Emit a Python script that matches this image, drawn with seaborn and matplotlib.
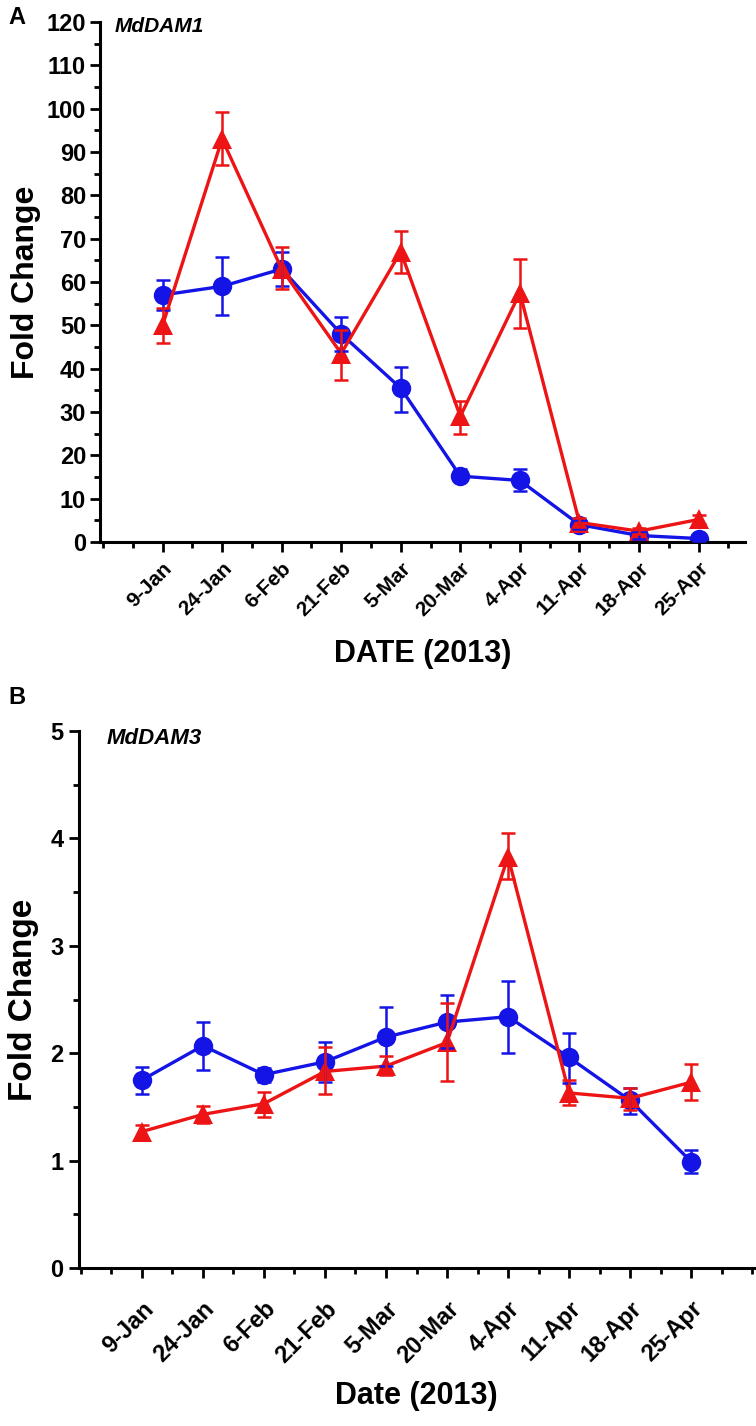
import numpy as np
import pandas as pd
import seaborn as sns
import matplotlib.pyplot as plt
from matplotlib.ticker import MultipleLocator

dates = ['9-Jan', '24-Jan', '6-Feb', '21-Feb', '5-Mar', '20-Mar', '4-Apr', '11-Apr', '18-Apr', '25-Apr']

# panel A, MdDAM1
dam1_blue = [57.0, 59.0, 63.0, 48.0, 35.5, 15.2, 14.2, 4.0, 1.5, 0.8]
dam1_blue_lo = [53.5, 52.5, 59.0, 44.0, 30.0, 14.0, 11.8, 3.0, 0.8, 0.3]
dam1_blue_hi = [60.5, 65.7, 67.0, 52.0, 40.5, 16.8, 16.8, 5.0, 2.2, 1.3]
dam1_red = [50.0, 93.0, 63.0, 43.5, 67.0, 29.0, 57.5, 4.5, 2.5, 5.2]
dam1_red_lo = [46.0, 87.0, 58.5, 37.5, 62.0, 25.0, 49.5, 3.5, 1.8, 4.2]
dam1_red_hi = [54.0, 99.3, 68.0, 49.0, 71.8, 32.5, 65.3, 5.5, 3.2, 6.2]

# panel B, MdDAM3
dam3_blue = [1.75, 2.07, 1.80, 1.92, 2.15, 2.29, 2.34, 1.96, 1.56, 0.99]
dam3_blue_lo = [1.62, 1.84, 1.73, 1.73, 1.88, 2.05, 2.00, 1.72, 1.43, 0.88]
dam3_blue_hi = [1.87, 2.29, 1.86, 2.10, 2.43, 2.54, 2.67, 2.19, 1.68, 1.10]
dam3_red = [1.27, 1.43, 1.53, 1.83, 1.88, 2.10, 3.83, 1.63, 1.58, 1.73]
dam3_red_lo = [1.20, 1.35, 1.41, 1.62, 1.80, 1.74, 3.62, 1.52, 1.47, 1.56]
dam3_red_hi = [1.33, 1.51, 1.64, 2.06, 1.97, 2.47, 4.05, 1.75, 1.68, 1.90]

BLUE = '#1414e6'
RED = '#ec1414'

sns.set_style('ticks')
plt.rcParams['font.family'] = ['Liberation Sans', 'DejaVu Sans']
plt.rcParams['font.weight'] = 'bold'
for k in ['text.color', 'axes.labelcolor', 'xtick.color', 'ytick.color']:
    plt.rcParams[k] = 'black'

fig = plt.figure(figsize=(7.56, 14.26), dpi=100)
ax1 = fig.add_axes([100/756, 1-542/1426, 645/756, 520/1426])
ax2 = fig.add_axes([79/756, 1-1268/1426, 675/756, 537/1426])


def draw(ax, blue, blo, bhi, red, rlo, rhi):
    pos = np.arange(len(dates))
    df = pd.DataFrame({
        'pos': np.concatenate([pos, pos]),
        'value': blue + red,
        'series': ['blue'] * len(dates) + ['red'] * len(dates),
    })
    sns.lineplot(data=df, x='pos', y='value', hue='series', style='series',
                 palette={'blue': BLUE, 'red': RED},
                 markers={'blue': 'o', 'red': '^'}, dashes=False,
                 markersize=14, markeredgewidth=0, linewidth=2.4,
                 errorbar=None, legend=False, ax=ax)
    for y, lo, hi, c in [(blue, blo, bhi, BLUE), (red, rlo, rhi, RED)]:
        y = np.array(y)
        ax.errorbar(pos, y, yerr=[y - np.array(lo), np.array(hi) - y], fmt='none',
                    ecolor=c, elinewidth=1.8, capsize=5, capthick=1.8, zorder=3)
    ax.set_xticks(pos)
    ax.xaxis.set_minor_locator(MultipleLocator(0.5))
    sns.despine(ax=ax)
    for s in ['left', 'bottom']:
        ax.spines[s].set_linewidth(2.2)
        ax.spines[s].set_color('black')
    ax.tick_params(which='major', direction='out', length=7, width=2, colors='black')
    ax.tick_params(which='minor', direction='out', length=4, width=2, colors='black')


draw(ax1, dam1_blue, dam1_blue_lo, dam1_blue_hi, dam1_red, dam1_red_lo, dam1_red_hi)
ax1.set_xlim(-1.05, 9.78)
ax1.set_ylim(0, 120)
ax1.yaxis.set_major_locator(MultipleLocator(10))
ax1.yaxis.set_minor_locator(MultipleLocator(5))
ax1.set_xticklabels(dates, rotation=45, ha='right', rotation_mode='anchor',
                    fontsize=15, fontweight='bold')
ax1.tick_params(axis='x', pad=5)
ax1.tick_params(axis='y', labelsize=17, pad=3)
ax1.set_ylabel('Fold Change', fontsize=23, fontweight='bold', labelpad=4)
ax1.set_xlabel('DATE (2013)', fontsize=22, fontweight='bold', labelpad=14)

draw(ax2, dam3_blue, dam3_blue_lo, dam3_blue_hi, dam3_red, dam3_red_lo, dam3_red_hi)
ax2.set_xlim(-1.03, 10.03)
ax2.set_ylim(0, 5)
ax2.yaxis.set_major_locator(MultipleLocator(1))
ax2.yaxis.set_minor_locator(MultipleLocator(0.5))
ax2.set_xticklabels(dates, rotation=45, ha='right', rotation_mode='anchor',
                    fontsize=17, fontweight='bold')
ax2.tick_params(axis='x', pad=14)
ax2.tick_params(axis='y', labelsize=17, pad=4)
ax2.set_ylabel('Fold Change', fontsize=24, fontweight='bold', labelpad=8)
ax2.set_xlabel('Date (2013)', fontsize=22, fontweight='bold', labelpad=10)

for lab in ax1.get_yticklabels() + ax2.get_yticklabels():
    lab.set_fontweight('bold')

fig.text(8/756, 1-17/1426, 'A', fontsize=17, fontweight='bold', va='center', ha='left')
fig.text(8/756, 1-697/1426, 'B', fontsize=17, fontweight='bold', va='center', ha='left')
fig.text(115/756, 1-26/1426, 'MdDAM1', fontsize=15, fontweight='bold', style='italic',
         va='center', ha='left')
fig.text(107/756, 1-738/1426, 'MdDAM3', fontsize=16, fontweight='bold', style='italic',
         va='center', ha='left')

fig.savefig('out.png', dpi=100)
